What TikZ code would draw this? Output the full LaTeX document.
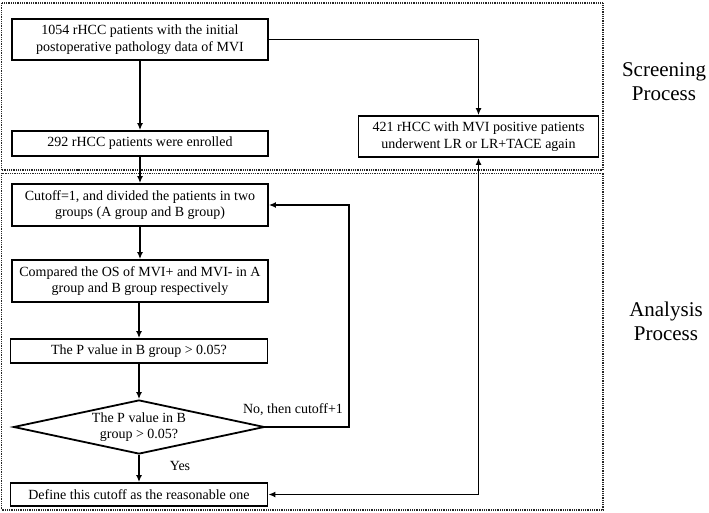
\documentclass[tikz,border=0pt]{standalone}
\usepackage{fontspec}
\setmainfont{Liberation Serif}
\usetikzlibrary{shapes.geometric,arrows.meta}
\begin{document}
\begin{tikzpicture}[x=1pt,y=-1pt,
  every node/.style={font=\fontsize{14}{16.5}\selectfont},
  procbox/.style={draw,line width=1.8pt,rectangle,align=center,inner sep=0pt},
  decbox/.style={draw,line width=1.8pt,diamond,aspect=4.6,align=center,inner sep=0pt,minimum width=251,minimum height=54},
  groupbox/.style={draw=black!85,line width=1.4pt,dash pattern=on 1pt off 0.8pt},
  arr/.style={line width=1.8pt,-{Latex[length=7pt,width=6pt]}},
  darr/.style={line width=1.8pt,{Latex[length=7pt,width=6pt]}-{Latex[length=7pt,width=6pt]}},
  lbl/.style={font=\fontsize{21}{24}\selectfont,align=center},
  note/.style={inner sep=1pt}]
\useasboundingbox (0,0) rectangle (709,513);
% group frames
\draw[groupbox] (1.5,3) rectangle (603,170);
\draw[groupbox] (1.5,173.5) rectangle (603,510);
\node[lbl] (scr) at (664,82) {Screening\\Process};
\node[lbl] (ana) at (666,321) {Analysis\\Process};
% nodes
\node[procbox,minimum width=256,minimum height=41] (b1) at (140,39.5) {1054 rHCC patients with the initial\\postoperative pathology data of MVI};
\node[procbox,minimum width=256,minimum height=25] (b2) at (140,143.5) {292 rHCC patients were enrolled};
\node[procbox,minimum width=240,minimum height=41] (rt) at (478.5,136.5) {421 rHCC with MVI positive patients\\underwent LR or LR+TACE again};
\node[procbox,minimum width=256,minimum height=42] (b3) at (140,205) {Cutoff=1, and divided the patients in two\\groups (A group and B group)};
\node[procbox,minimum width=256,minimum height=42] (b4) at (140,281) {Compared the OS of MVI+ and MVI- in A\\group and B group respectively};
\node[procbox,minimum width=257,minimum height=24] (b5) at (139,351) {The P value in B group > 0.05?};
\node[decbox] (dia) at (139,427) {The P value in B\\group > 0.05?};
\node[procbox,minimum width=257,minimum height=23] (fin) at (139,494.5) {Define this cutoff as the reasonable one};
\coordinate (lp) at (349,427);
% labels
\node[note] (no) at (293,410) {No, then cutoff+1};
\node[note] (yes) at (180,466) {Yes};
% connectors
\draw[arr] (b1.east) -| (rt.north);
\draw[arr] (b1.south -| b2.north) -- (b2.north);
\draw[arr] (b2.south) -- (b3.north);
\draw[arr] (b3.south) -- (b4.north);
\draw[arr] (b4.south -| b5.north) -- (b5.north);
\draw[arr] (b5.south) -- (dia.north);
\draw[arr] (dia.south) -- (fin.north);
\draw[arr] (dia.east) -- (lp) |- (b3.east);
\draw[darr] (fin.east) -| (rt.south);
\end{tikzpicture}
\end{document}
